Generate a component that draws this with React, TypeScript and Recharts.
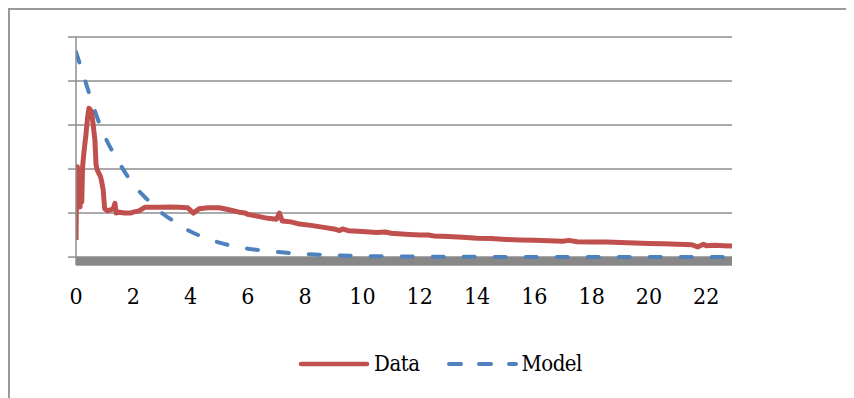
import React from "react";
import {
  LineChart, Line, XAxis, YAxis, CartesianGrid, Legend, ReferenceArea,
} from "recharts";

// [time, value] pairs
const dataCurve: [number, number][] = [
  [0, 0.39], [0.02, 1.5], [0.05, 2.05], [0.08, 1.3], [0.11, 1.9], [0.14, 1.14],
  [0.17, 1.7], [0.2, 1.25], [0.23, 2.05], [0.28, 2.4], [0.35, 2.8], [0.4, 3.15],
  [0.45, 3.38], [0.5, 3.35], [0.55, 3.27], [0.6, 3.0], [0.66, 2.66], [0.7, 2.1],
  [0.74, 1.98], [0.8, 1.9], [0.86, 1.82], [0.9, 1.7], [0.95, 1.52], [1.0, 1.1],
  [1.1, 1.05], [1.2, 1.07], [1.3, 1.1], [1.36, 1.22], [1.4, 1.0], [1.5, 1.02],
  [1.7, 1.0], [1.9, 1.0], [2.0, 1.02], [2.2, 1.05], [2.4, 1.13], [2.7, 1.13],
  [3.0, 1.13], [3.3, 1.14], [3.6, 1.13], [3.9, 1.12], [4.1, 1.0], [4.3, 1.1],
  [4.6, 1.12], [5.0, 1.12], [5.3, 1.08], [5.7, 1.02], [5.9, 1.0], [6.0, 0.97],
  [6.4, 0.92], [6.7, 0.88], [7.0, 0.86], [7.1, 1.0], [7.2, 0.82], [7.5, 0.8],
  [7.8, 0.75], [8.2, 0.72], [8.6, 0.68], [9.0, 0.64], [9.2, 0.6], [9.3, 0.64],
  [9.5, 0.6], [10, 0.58], [10.5, 0.56], [10.8, 0.57], [11, 0.54], [11.5, 0.52],
  [12, 0.5], [12.3, 0.5], [12.5, 0.48], [13, 0.47], [13.5, 0.45], [14, 0.43],
  [14.5, 0.42], [15, 0.4], [15.5, 0.39], [16, 0.38], [16.5, 0.37], [17, 0.36],
  [17.2, 0.38], [17.5, 0.35], [18, 0.34], [18.5, 0.34], [19, 0.33], [19.5, 0.32],
  [20, 0.31], [20.5, 0.3], [21, 0.29], [21.5, 0.28], [21.7, 0.23], [21.9, 0.29],
  [22, 0.26], [22.3, 0.27], [22.6, 0.26], [22.9, 0.25],
];

const modelCurve: [number, number][] = [
  [0, 4.66], [0.25, 4.15], [0.5, 3.64], [0.75, 3.15], [1, 2.75], [1.5, 2.15],
  [2, 1.65], [2.5, 1.3], [3, 1.0], [3.5, 0.78], [4, 0.58], [4.5, 0.44],
  [5, 0.33], [5.5, 0.25], [6, 0.19], [6.5, 0.15], [7, 0.12], [7.5, 0.09],
  [8, 0.07], [9, 0.04], [10, 0.025], [11, 0.015], [12, 0.01], [14, 0.005],
  [16, 0], [18, 0], [20, 0], [22, 0], [22.9, 0],
];

const xTicks = [0, 2, 4, 6, 8, 10, 12, 14, 16, 18, 20, 22];
const yTicks = [0, 1, 2, 3, 4, 5];

const dataRows = dataCurve.map(([t, v]) => ({ t, v }));
const modelRows = modelCurve.map(([t, v]) => ({ t, v }));

// Times-like serif; the page has no Times, so use DejaVu's condensed serif
const font = "DejaVu Serif Condensed, DejaVu Serif";

const renderLegend = (props: any) => {
  const { payload } = props;
  return (
    <div style={{ display: "flex", justifyContent: "center", alignItems: "center", paddingLeft: 16 }}>
      {payload.map((entry: any) => (
        <div key={entry.value} style={{ display: "flex", alignItems: "center", marginRight: entry.value === "Data" ? 26 : 0 }}>
          <svg width={72} height={12} style={{ marginRight: 4 }}>
            {entry.value === "Data" ? (
              <line x1={3} y1={6} x2={69} y2={6} stroke={entry.color} strokeWidth={4.5} strokeLinecap="round" />
            ) : (
              <line x1={3} y1={6} x2={70} y2={6} stroke={entry.color} strokeWidth={4}
                strokeDasharray="12 18" strokeLinecap="round" />
            )}
          </svg>
          <span style={{ fontFamily: font, fontSize: 22, color: "#000", letterSpacing: -0.5 }}>{entry.value}</span>
        </div>
      ))}
    </div>
  );
};

export default function App() {
  return (
    <div
      style={{
        width: 846, height: 390, boxSizing: "border-box",
        borderTop: "2px solid #9a9a9a", borderLeft: "2px solid #9a9a9a",
        position: "relative", overflow: "hidden", background: "#fff",
      }}
    >
      <LineChart width={844} height={388} margin={{ top: 27, right: 122, bottom: 93, left: 46 }}>
        <CartesianGrid vertical={false} stroke="#8e8e8e" strokeWidth={1.5} />
        <ReferenceArea x1={0} x2={22.9} y1={-0.18} y2={0} fill="#878787" fillOpacity={1} stroke="none" />
        <XAxis
          type="number"
          dataKey="t"
          domain={[0, 22.9]}
          ticks={xTicks}
          allowDataOverflow
          axisLine={false}
          tickLine={false}
          tickSize={0}
          tickMargin={23}
          height={40}
          tick={{ fontFamily: font, fontSize: 23, fill: "#000" }}
        />
        <YAxis
          type="number"
          domain={[-0.18, 5]}
          ticks={yTicks}
          allowDataOverflow
          width={20}
          tickSize={8}
          tickFormatter={() => ""}
          axisLine={{ stroke: "#8e8e8e", strokeWidth: 1.5 }}
          tickLine={{ stroke: "#8e8e8e", strokeWidth: 1.5 }}
        />
        <Legend
          layout="horizontal"
          verticalAlign="middle"
          align="center"
          content={renderLegend}
          wrapperStyle={{ position: "absolute", top: 341, left: 0, width: 844 }}
        />
        <Line
          data={modelRows}
          dataKey="v"
          name="Model"
          type="monotone"
          stroke="#4f81bd"
          strokeWidth={4}
          strokeDasharray="11 20"
          strokeLinecap="round"
          dot={false}
          isAnimationActive={false}
        />
        <Line
          data={dataRows}
          dataKey="v"
          name="Data"
          type="linear"
          stroke="#c0504d"
          strokeWidth={5}
          strokeLinejoin="round"
          dot={false}
          isAnimationActive={false}
        />
      </LineChart>
    </div>
  );
}
